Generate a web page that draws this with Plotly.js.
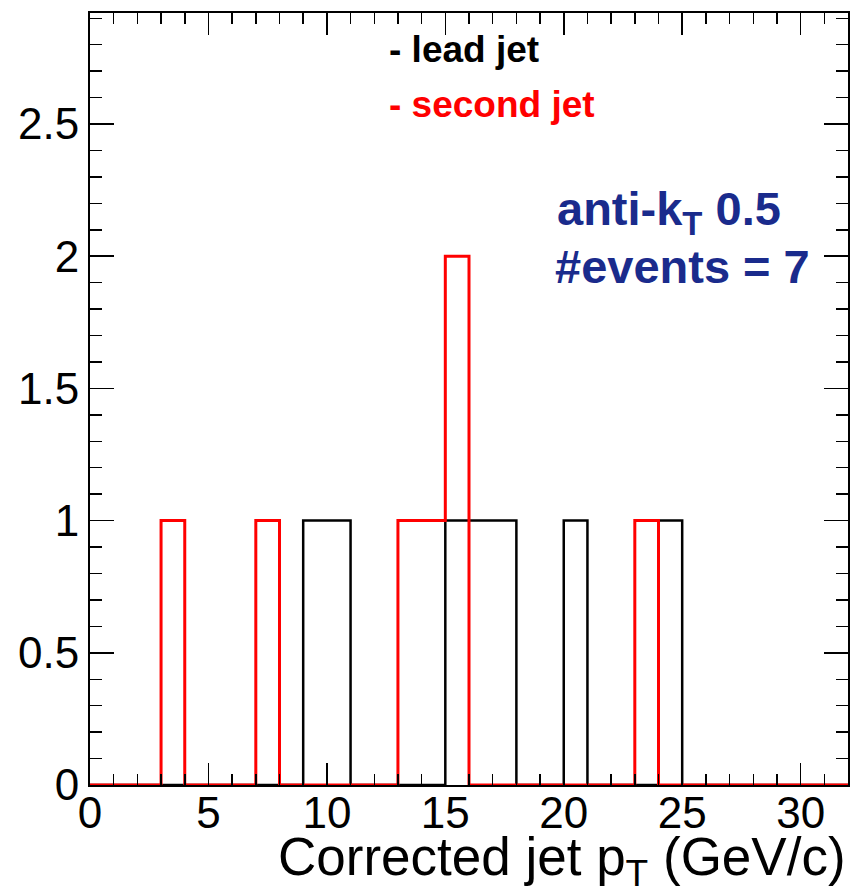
<!DOCTYPE html>
<html>
<head>
<meta charset="utf-8">
<script src="https://cdn.plot.ly/plotly-3.0.1.min.js"></script>
<style>html,body{margin:0;padding:0;background:#fff;}#chart{width:850px;height:894px;}</style>
</head>
<body>
<div id="chart"></div>
<script>
// Bin edges (GeV/c), width 1, from 0 to 32
const binEdges = [0,1,2,3,4,5,6,7,8,9,10,11,12,13,14,15,16,17,18,19,20,21,22,23,24,25,26,27,28,29,30,31,32];
// Counts per bin (32 bins)
const leadCounts   = [0,0,0,0,0,0,0,0,0,1,1,0,0,0,0,1,1,1,0,0,1,0,0,0,1,0,0,0,0,0,0,0];
const secondCounts = [0,0,0,1,0,0,0,1,0,0,0,0,0,1,1,2,0,0,0,0,0,0,0,1,0,0,0,0,0,0,0,0];
const xTickVals = [0,5,10,15,20,25,30];
const yTickVals = [0,0.5,1,1.5,2,2.5];

function stepY(counts){ return counts.concat([counts[counts.length-1]]); }

const FONT = "Liberation Sans, Arial, Helvetica, sans-serif";

const traces = [
  {x: binEdges, y: stepY(leadCounts), type:'scatter', mode:'lines',
   line:{shape:'hv', color:'#000000', width:2.5}, name:'lead jet', hoverinfo:'skip'},
  {x: binEdges, y: stepY(secondCounts), type:'scatter', mode:'lines',
   line:{shape:'hv', color:'#ff0000', width:3}, name:'second jet', hoverinfo:'skip'}
];

const layout = {
  width:850, height:894,
  margin:{l:90, r:2, t:13, b:109},
  paper_bgcolor:'#ffffff', plot_bgcolor:'#ffffff',
  showlegend:false,
  font:{family:FONT, color:'#000'},
  xaxis:{
    range:[0,32], tickvals:xTickVals, ticks:'inside', ticklen:22, tickwidth:1.5, tickcolor:'#000',
    minor:{dtick:1, ticks:'inside', ticklen:11, tickwidth:1.5, tickcolor:'#000'},
    showline:true, linecolor:'#000', linewidth:2, mirror:'ticks',
    showgrid:false, zeroline:false, ticklabelstandoff:-12,
    tickfont:{family:FONT, size:44, color:'#000'}
  },
  yaxis:{
    range:[0,2.92], tickvals:yTickVals, ticks:'inside', ticklen:24, tickwidth:1.5, tickcolor:'#000',
    minor:{dtick:0.1, ticks:'inside', ticklen:12, tickwidth:1.5, tickcolor:'#000'},
    showline:true, linecolor:'#000', linewidth:2, mirror:'ticks',
    showgrid:false, zeroline:false,
    tickfont:{family:FONT, size:44, color:'#000'}
  },
  annotations:[
    {text:'- lead jet', xref:'paper', yref:'paper', x:0.392, y:0.953, xanchor:'left', yanchor:'middle',
     showarrow:false, font:{family:FONT, size:37, color:'#000000', weight:'bold'}},
    {text:'- second jet', xref:'paper', yref:'paper', x:0.392, y:0.881, xanchor:'left', yanchor:'middle',
     showarrow:false, font:{family:FONT, size:37, color:'#ff0000', weight:'bold'}},
    {text:'anti-k<sub>T</sub> 0.5', xref:'paper', yref:'paper', x:0.613, y:0.742, xanchor:'left', yanchor:'middle',
     showarrow:false, font:{family:FONT, size:47, color:'#1a2b8c', weight:'bold'}},
    {text:'#events = 7', xref:'paper', yref:'paper', x:0.611, y:0.672, xanchor:'left', yanchor:'middle',
     showarrow:false, font:{family:FONT, size:47, color:'#1a2b8c', weight:'bold'}},
    {text:'Corrected jet p<sub>T</sub> (GeV/c)', xref:'paper', yref:'paper', x:1.0, y:-0.098, xanchor:'right', yanchor:'middle',
     showarrow:false, font:{family:FONT, size:53, color:'#000'}}
  ]
};

Plotly.newPlot('chart', traces, layout, {staticPlot:true, displayModeBar:false});
</script>
</body>
</html>
